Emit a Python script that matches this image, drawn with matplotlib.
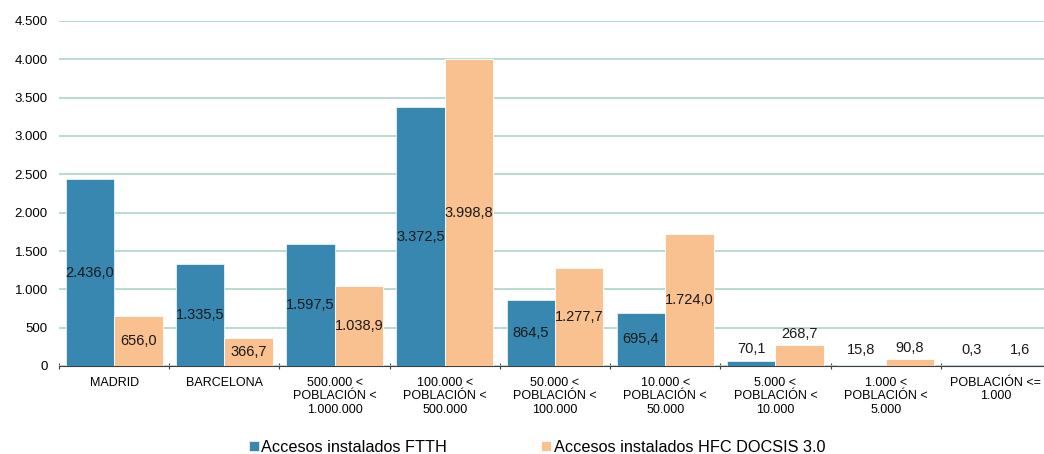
import matplotlib.pyplot as plt
import numpy as np

plt.rcParams['font.family'] = ['Liberation Sans', 'DejaVu Sans']

categorias = [
    'MADRID',
    'BARCELONA',
    '500.000 <\nPOBLACIÓN <\n1.000.000',
    '100.000 <\nPOBLACIÓN <\n500.000',
    '50.000 <\nPOBLACIÓN <\n100.000',
    '10.000 <\nPOBLACIÓN <\n50.000',
    '5.000 <\nPOBLACIÓN <\n10.000',
    '1.000 <\nPOBLACIÓN <\n5.000',
    'POBLACIÓN <=\n1.000',
]
ftth = [2436.0, 1335.5, 1597.5, 3372.5, 864.5, 695.4, 70.1, 15.8, 0.3]
hfc = [656.0, 366.7, 1038.9, 3998.8, 1277.7, 1724.0, 268.7, 90.8, 1.6]
series = ['Accesos instalados FTTH', 'Accesos instalados HFC DOCSIS 3.0']
yticks = [0, 500, 1000, 1500, 2000, 2500, 3000, 3500, 4000, 4500]

AZUL = '#3787b0'
NARANJA = '#f9c090'
GRID = '#b3d9cc'


def fmt_es(v, dec=1):
    s = f'{v:,.{dec}f}'
    return s.replace(',', '#').replace('.', ',').replace('#', '.')


fig = plt.figure(figsize=(10.44, 4.54), dpi=100)
ax = fig.add_axes([59 / 1044, 88 / 454, 992 / 1044, 345 / 454])

x = np.arange(len(categorias))
w = 0.44
b1 = ax.bar(x - w / 2, ftth, w, color=AZUL, edgecolor='#e8f2f7', linewidth=0.6,
            label=series[0], zorder=3)
b2 = ax.bar(x + w / 2, hfc, w, color=NARANJA, edgecolor='white', linewidth=0.6,
            label=series[1], zorder=3)

# etiquetas de datos: centradas en la barra, o encima si la barra es baja
for xs, vals in ((x - w / 2, ftth), (x + w / 2, hfc)):
    for xi, v in zip(xs, vals):
        if v >= 300:
            ax.text(xi, v / 2, fmt_es(v), ha='center', va='center',
                    fontsize=10.5, color='#1a1a1a', zorder=4)
        else:
            ax.text(xi, max(v + 55, 115), fmt_es(v), ha='center', va='bottom',
                    fontsize=10.5, color='#1a1a1a', zorder=4)

ax.set_xlim(-0.5, len(categorias) - 0.5)
ax.set_ylim(0, 4500)
ax.set_yticks(yticks)
ax.set_yticklabels([fmt_es(t, 0) for t in yticks], fontsize=9.5)
ax.yaxis.grid(True, color=GRID, linewidth=1.3, zorder=0)
ax.tick_params(axis='y', length=0, pad=8)

ax.set_xticks(x)
ax.set_xticklabels(categorias, fontsize=9, linespacing=1.15)
ax.tick_params(axis='x', which='major', length=0, pad=8)
ax.set_xticks(np.arange(len(categorias) + 1) - 0.5, minor=True)
ax.tick_params(axis='x', which='minor', length=5, direction='inout',
               color='#404040', width=0.8)

for s in ('top', 'right', 'left'):
    ax.spines[s].set_visible(False)
ax.spines['bottom'].set_color('#404040')
ax.spines['bottom'].set_linewidth(0.8)

fig.legend(handles=[b1, b2], labels=series, loc='center',
           bbox_to_anchor=(537 / 1044, 1 - 447 / 454), ncol=2, frameon=False,
           fontsize=11.7, handlelength=0.6, handleheight=0.6, handletextpad=0.15,
           columnspacing=5.8)

fig.savefig('out.png', dpi=100)
